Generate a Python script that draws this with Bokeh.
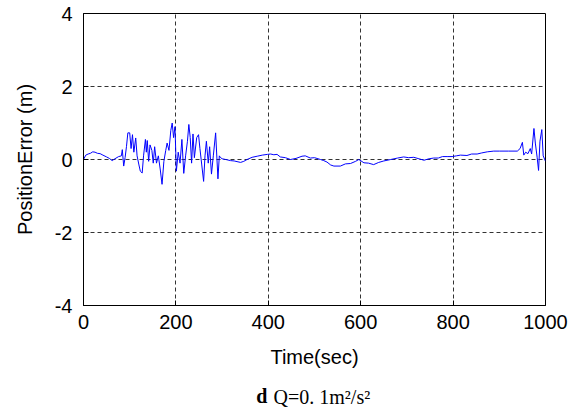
from bokeh.plotting import figure
from bokeh.models import FixedTicker, Range1d, CustomJSTickFormatter, LinearAxis
from bokeh.embed import file_html
from bokeh.resources import INLINE

# Data
time_sec = [0, 5, 10, 15, 20, 25, 30, 36, 42, 50, 56, 62, 68, 76, 82, 84, 87, 90, 93, 96,
            100, 103, 106, 109, 113, 116, 120, 123, 127, 130, 134, 136, 138, 141, 144, 148,
            151, 154, 158, 162, 166, 170, 174, 178, 181, 185, 189, 192, 195, 198, 201, 205,
            209, 213, 217, 221, 225, 228, 231, 234, 237, 240, 245, 249, 252, 256, 260, 263,
            266, 270, 273, 277, 281, 286, 291, 294, 296, 300, 308, 318, 326, 340, 347, 354,
            365, 376, 387, 398, 405, 412, 419, 426, 437, 448, 460, 473, 480, 491, 500, 513,
            520, 527, 535, 542, 556, 567, 578, 589, 596, 607, 617, 628, 639, 650, 665, 680,
            693, 704, 715, 726, 737, 748, 758, 768, 777, 787, 798, 807, 816, 830, 840, 852,
            862, 874, 888, 900, 920, 939, 945, 950, 953, 957, 962, 967, 970, 975, 978, 982,
            985, 988, 992, 995, 1000]
position_error = [0.0, 0.12, 0.15, 0.17, 0.21, 0.2, 0.17, 0.16, 0.12, 0.07, 0.03, -0.03, 0.02,
                  0.08, 0.1, 0.27, -0.18, 0.05, 0.35, 0.73, 0.73, 0.3, 0.68, 0.2, 0.59, 0.1,
                  -0.15, -0.32, -0.37, 0.1, 0.55, 0.2, 0.52, -0.05, 0.4, 0.25, -0.1, 0.35, -0.1,
                  0.1, -0.26, -0.68, -0.05, 0.25, 0.45, 0.25, 0.8, 1.0, 0.6, 0.9, -0.32, 0.2,
                  -0.1, 0.55, -0.38, 0.1, 0.5, 0.96, 0.6, -0.1, 0.7, 0.05, 0.6, 0.68, 0.3, -0.15,
                  -0.6, 0.1, 0.5, -0.1, 0.35, -0.4, 0.1, 0.73, -0.53, 0.1, 0.06, 0.02, 0.0,
                  -0.03, -0.04, -0.08, -0.05, 0.0, 0.06, 0.09, 0.12, 0.14, 0.15, 0.13, 0.14,
                  0.07, 0.05, 0.0, 0.03, 0.09, 0.1, 0.04, 0.05, 0.0, -0.03, -0.07, -0.15, -0.18,
                  -0.18, -0.12, -0.11, -0.05, 0.0, -0.09, -0.1, -0.14, -0.08, -0.04, 0.0, 0.04,
                  0.07, 0.05, 0.06, 0.02, -0.02, 0.02, 0.04, 0.04, 0.08, 0.08, 0.08, 0.1, 0.12,
                  0.11, 0.15, 0.15, 0.18, 0.21, 0.23, 0.23, 0.23, 0.23, 0.3, 0.47, 0.12, 0.2,
                  0.16, 0.3, 0.15, 0.85, 0.45, 0.05, -0.3, 0.5, 0.82, 0.1, -0.05]

x_ticks = [0, 200, 400, 600, 800, 1000]
y_ticks = [-4, -2, 0, 2, 4]
caption_letter = "d"
caption_text = "Q=0. 1m²/s²"

FONT = "Liberation Sans"
SERIF = "Liberation Serif"

p = figure(width=573, height=411, output_backend="svg", toolbar_location=None,
           x_range=Range1d(0, 1000), y_range=Range1d(-4, 4),
           min_border_left=83, min_border_right=28, min_border_top=13, min_border_bottom=106)

p.line(time_sec, position_error, line_color="#0000FF", line_width=1)

p.outline_line_color = "black"
p.outline_line_width = 1
p.background_fill_color = "white"
p.border_fill_color = "white"

for ax in (p.xaxis, p.yaxis):
    ax.major_label_text_font = FONT
    ax.major_label_text_font_size = "20px"
    ax.major_label_text_color = "black"
    ax.axis_label_text_font = FONT
    ax.axis_label_text_font_size = "20px"
    ax.axis_label_text_font_style = "normal"
    ax.axis_label_text_color = "black"
    ax.axis_line_color = "black"
    ax.major_tick_line_color = "black"
    ax.major_tick_in = 5
    ax.major_tick_out = 0
    ax.minor_tick_line_color = None
    ax.formatter = CustomJSTickFormatter(code="return String(tick);")

p.xaxis.ticker = FixedTicker(ticks=x_ticks)
p.yaxis.ticker = FixedTicker(ticks=y_ticks)
p.xaxis.axis_label = "Time(sec)"
p.yaxis.axis_label = "PositionError (m)"
p.xaxis.major_label_standoff = 9
p.yaxis.major_label_standoff = 11
p.xaxis.axis_label_standoff = 14
p.yaxis.axis_label_standoff = 16

for g in (p.xgrid, p.ygrid):
    g.grid_line_color = "#333333"
    g.grid_line_dash = "4 3"
    g.grid_line_width = 1


def caption_axis(pos, text, style, size, standoff):
    ax = LinearAxis(ticker=FixedTicker(ticks=[pos]),
                    major_label_overrides={pos: text},
                    axis_line_color=None, major_tick_line_color=None,
                    minor_tick_line_color=None, major_tick_in=0, major_tick_out=0,
                    major_label_text_font=SERIF, major_label_text_font_size=size,
                    major_label_text_font_style=style, major_label_text_color="black",
                    major_label_standoff=standoff)
    p.add_layout(ax, "below")
    return ax


caption_axis(386, caption_letter, "bold", "20px", 14)
caption_axis(516, caption_text, "normal", "20px", -24)

open("out.html", "w").write(file_html(p, INLINE))
